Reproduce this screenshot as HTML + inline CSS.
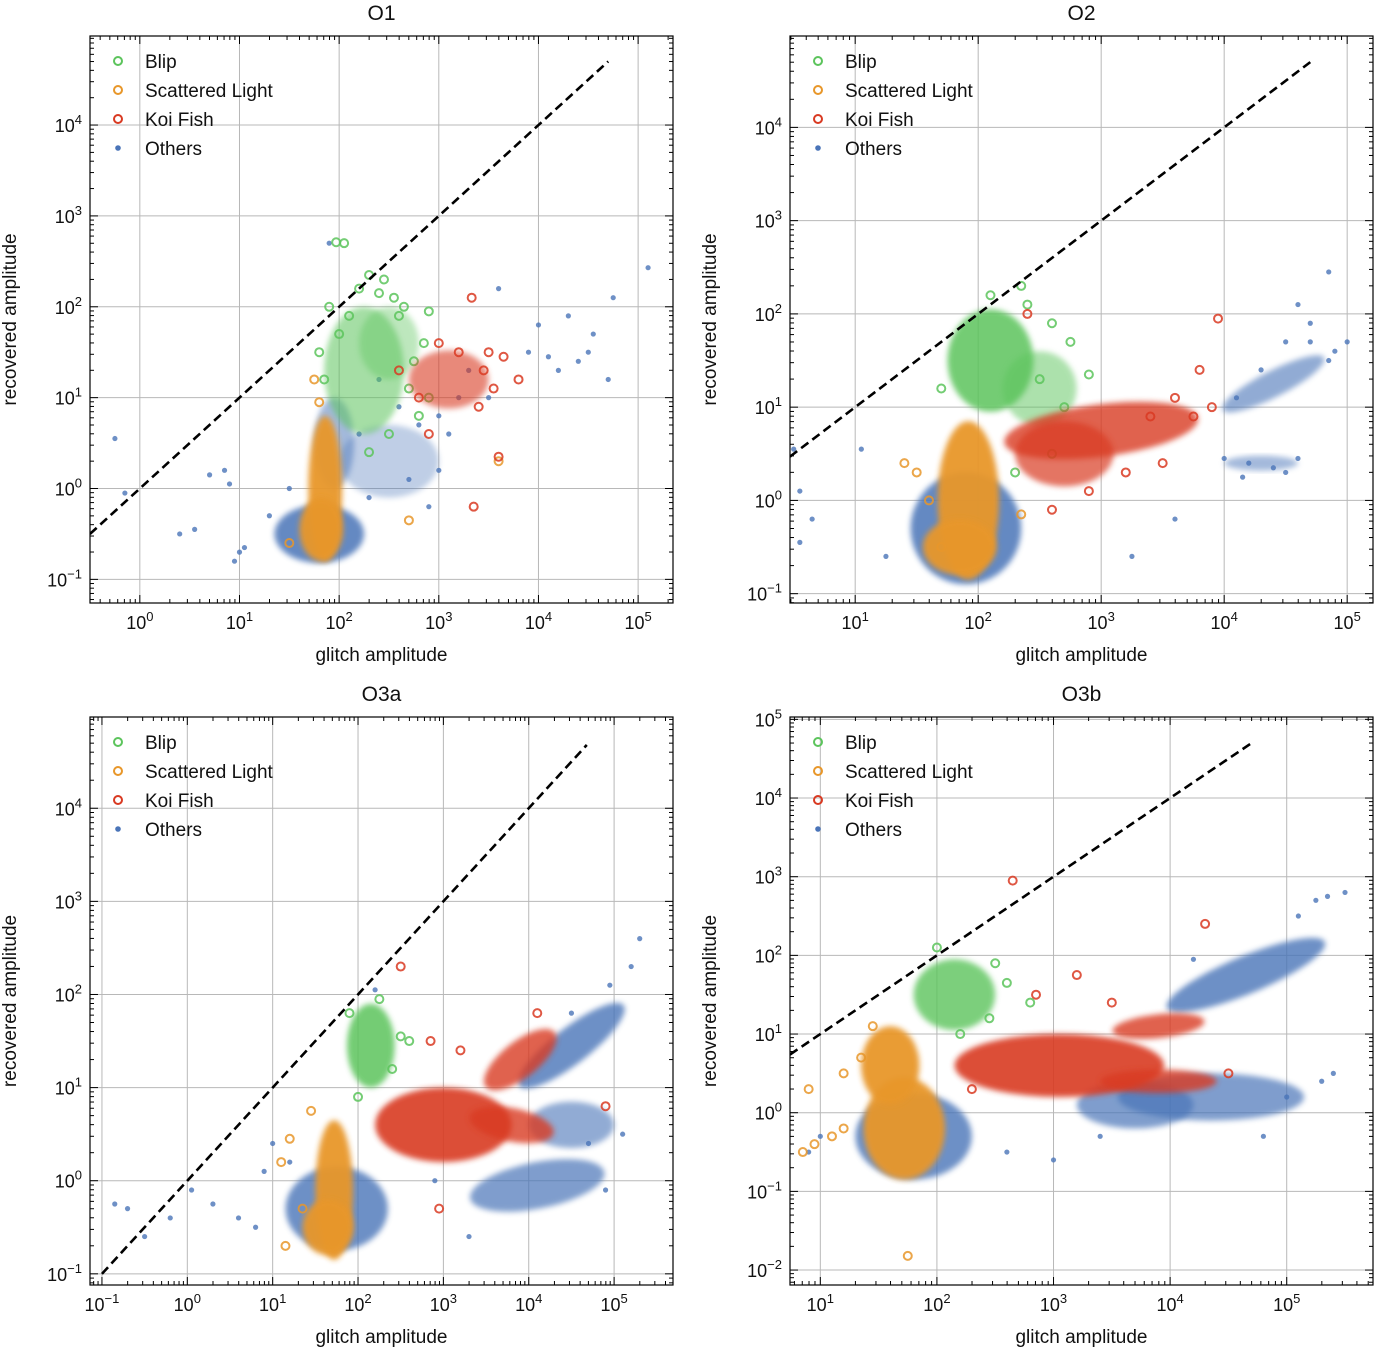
<!DOCTYPE html>
<html><head><meta charset="utf-8"><style>
html,body{margin:0;padding:0;background:#fff;}
svg{display:block;font-family:"Liberation Sans",sans-serif;}
</style></head><body>
<svg id="fig" width="1376" height="1350" viewBox="0 0 1376 1350" xmlns="http://www.w3.org/2000/svg">
<defs><filter id="soft" x="-20%" y="-20%" width="140%" height="140%"><feGaussianBlur stdDeviation="3"/></filter></defs>
</svg>
<script>
// ---- data (log10 coordinates). Blobs: [cx, cy, rx, ry, rotDeg, density] for dense regions; pts: [x, y]
const o1_otherBlobs=[[1.8,-0.5,0.45,0.32,0,0.85],[2.5,0.3,0.5,0.4,0,0.35],[1.95,0.5,0.2,0.5,0,0.5]];
const o1_otherPts=[[-0.25,0.55],[-0.15,-0.05],[0.4,-0.5],[0.55,-0.45],[0.7,0.15],[0.85,0.2],[0.9,0.05],[0.95,-0.8],[1.05,-0.65],[1.9,2.7],[3.9,1.5],[4.2,1.3],[4.5,1.5],[4.7,1.2],[5.1,2.43],[4.75,2.1],[4.0,1.8],[3.3,1.3],[3.5,1.0],[3.0,0.2],[1.0,-0.7],[1.3,-0.3],[1.5,0.0],[2.6,0.9],[2.8,0.7],[3.1,0.6],[2.4,1.2],[2.9,-0.2],[3.6,2.2],[4.3,1.9],[4.55,1.7],[4.4,1.4],[4.1,1.45],[2.2,0.6],[2.7,0.1],[3.0,0.8],[2.3,-0.1],[3.2,1.0]];
const o1_blipBlobs=[[2.25,1.3,0.4,0.7,0,0.55],[2.5,1.6,0.3,0.4,0,0.4]];
const o1_blipPts=[[2.05,2.7],[1.97,2.71],[2.45,2.3],[2.4,2.15],[2.3,2.35],[2.9,1.95],[2.75,1.4],[2.8,0.8],[1.8,1.5],[1.9,2.0],[2.6,1.9],[2.2,2.2],[2.65,2.0],[2.0,1.7],[2.85,1.6],[2.5,0.6],[2.3,0.4],[2.7,1.1],[1.85,1.2],[2.1,1.9],[2.55,2.1],[2.9,1.0]];
const o1_scatBlobs=[[1.86,0.0,0.17,0.8,0,0.95],[1.82,-0.45,0.22,0.35,0,0.95]];
const o1_scatPts=[[1.75,1.2],[1.8,0.95],[3.6,0.3],[2.7,-0.35],[1.5,-0.6]];
const o1_koiBlobs=[[3.1,1.2,0.4,0.32,0,0.6]];
const o1_koiPts=[[3.33,2.1],[3.6,0.35],[3.35,-0.2],[3.8,1.2],[3.65,1.45],[2.9,0.6],[3.0,1.6],[2.6,1.3],[3.5,1.5],[3.4,0.9],[3.45,1.3],[2.8,1.0],[3.2,1.5],[3.55,1.1]];

const o2_otherBlobs=[[1.9,-0.3,0.45,0.6,0,0.85],[4.4,1.25,0.5,0.13,35,0.6],[4.3,0.4,0.3,0.08,0,0.5]];
const o2_otherPts=[[0.5,0.55],[0.55,0.1],[0.65,-0.2],[0.55,-0.45],[1.05,0.55],[1.25,-0.6],[4.7,1.9],[4.6,2.1],[4.85,2.45],[4.5,1.7],[4.3,1.4],[4.1,1.1],[4.2,0.4],[4.4,0.35],[4.6,0.45],[4.5,0.3],[4.0,0.45],[4.15,0.25],[3.6,-0.2],[3.25,-0.6],[5.0,1.7],[4.85,1.5],[4.9,1.6],[4.7,1.7]];
const o2_blipBlobs=[[2.1,1.5,0.35,0.55,0,0.85],[2.5,1.2,0.3,0.4,0,0.5]];
const o2_blipPts=[[2.35,2.3],[2.4,2.1],[2.6,1.9],[2.75,1.7],[2.9,1.35],[2.5,1.3],[1.7,1.2],[2.1,2.2],[2.7,1.0],[2.6,0.5],[2.3,0.3]];
const o2_scatBlobs=[[1.92,0.0,0.25,0.85,0,0.95],[1.85,-0.5,0.3,0.3,0,0.95]];
const o2_scatPts=[[1.4,0.4],[1.5,0.3],[1.6,0.0],[2.35,-0.15],[1.7,-0.5]];
const o2_koiBlobs=[[3.0,0.75,0.8,0.28,10,0.8],[2.7,0.5,0.4,0.35,0,0.7]];
const o2_koiPts=[[3.95,1.95],[3.6,1.1],[3.8,1.4],[3.4,0.9],[2.6,-0.1],[2.4,2.0],[3.9,1.0],[3.5,0.4],[3.75,0.9],[3.2,0.3],[2.9,0.1]];

const o3a_otherBlobs=[[1.75,-0.3,0.6,0.45,0,0.8],[4.5,1.45,0.75,0.2,35,0.8],[4.1,-0.05,0.8,0.25,10,0.7],[4.5,0.6,0.5,0.25,0,0.6]];
const o3a_otherPts=[[-0.85,-0.25],[-0.7,-0.3],[-0.5,-0.6],[-0.2,-0.4],[0.05,-0.1],[0.3,-0.25],[0.6,-0.4],[0.9,0.1],[1.0,0.4],[1.2,0.2],[2.2,2.05],[2.9,0.0],[3.3,-0.6],[5.3,2.6],[5.2,2.3],[4.95,2.1],[4.5,1.8],[5.1,0.5],[4.9,-0.1],[4.7,0.4],[0.8,-0.5]];
const o3a_blipBlobs=[[2.15,1.45,0.28,0.45,0,0.85]];
const o3a_blipPts=[[2.5,1.55],[2.6,1.5],[1.9,1.8],[2.25,1.95],[2.4,1.2],[2.0,0.9]];
const o3a_scatBlobs=[[1.72,-0.1,0.22,0.75,0,0.95],[1.65,-0.5,0.3,0.3,0,0.95]];
const o3a_scatPts=[[1.2,0.45],[1.1,0.2],[1.45,0.75],[1.35,-0.3],[1.15,-0.7]];
const o3a_koiBlobs=[[3.0,0.6,0.8,0.4,0,0.9],[3.8,0.6,0.5,0.18,-10,0.8],[3.9,1.3,0.5,0.2,35,0.8]];
const o3a_koiPts=[[2.5,2.3],[4.1,1.8],[4.9,0.8],[3.2,1.4],[2.85,1.5],[2.95,-0.3]];

const o3b_otherBlobs=[[1.8,-0.3,0.5,0.55,0,0.8],[4.65,1.75,0.8,0.22,33,0.8],[4.35,0.2,0.8,0.3,0,0.7],[3.7,0.1,0.5,0.3,0,0.7]];
const o3b_otherPts=[[0.9,-0.5],[1.0,-0.3],[4.2,1.95],[5.1,2.5],[5.25,2.7],[5.5,2.8],[5.35,2.75],[5.3,0.4],[5.4,0.5],[5.0,0.2],[4.8,-0.3],[3.0,-0.6],[3.4,-0.3],[2.6,-0.5]];
const o3b_blipBlobs=[[2.15,1.5,0.35,0.45,0,0.8]];
const o3b_blipPts=[[2.5,1.9],[2.6,1.65],[2.8,1.4],[2.0,2.1],[2.45,1.2],[2.2,1.0]];
const o3b_scatBlobs=[[1.72,-0.2,0.35,0.65,0,0.95],[1.6,0.6,0.25,0.5,0,0.95]];
const o3b_scatPts=[[0.9,0.3],[0.85,-0.5],[0.95,-0.4],[1.1,-0.3],[1.2,0.5],[1.45,1.1],[1.35,0.7],[1.75,-1.82],[1.2,-0.2]];
const o3b_koiBlobs=[[3.05,0.6,0.9,0.4,0,0.9],[3.9,1.1,0.4,0.15,10,0.8],[3.9,0.4,0.5,0.15,0,0.8]];
const o3b_koiPts=[[2.65,2.95],[4.3,2.4],[3.2,1.75],[3.5,1.4],[2.85,1.5],[4.5,0.5],[2.3,0.3]];

const titles=["O1","O2","O3a","O3b"];
const xTickExp=[[0,1,2,3,4,5],[1,2,3,4,5],[-1,0,1,2,3,4,5],[1,2,3,4,5]];
const yTickExp=[[-1,0,1,2,3,4],[-1,0,1,2,3,4],[-1,0,1,2,3,4],[-2,-1,0,1,2,3,4,5]];
const legendLabels=["Blip","Scattered Light","Koi Fish","Others"];
const diagRange=[[-0.5,4.7],[0.47,4.7],[-1.0,4.68],[0.74,4.69]];

// ---- layout (not data)
const P=[
 {L:90,R:673,T:36,B:603,x0:-0.5,x1:5.35,y0:-1.26,y1:4.98},
 {L:790,R:1373,T:36,B:603,x0:0.47,x1:5.21,y0:-1.1,y1:4.98},
 {L:90,R:673,T:717,B:1285,x0:-1.14,x1:5.69,y0:-1.12,y1:4.98},
 {L:790,R:1373,T:717,B:1285,x0:0.74,x1:5.74,y0:-2.19,y1:5.03}
];
const series=[
 [o1_otherBlobs,o1_otherPts,o1_blipBlobs,o1_blipPts,o1_scatBlobs,o1_scatPts,o1_koiBlobs,o1_koiPts],
 [o2_otherBlobs,o2_otherPts,o2_blipBlobs,o2_blipPts,o2_scatBlobs,o2_scatPts,o2_koiBlobs,o2_koiPts],
 [o3a_otherBlobs,o3a_otherPts,o3a_blipBlobs,o3a_blipPts,o3a_scatBlobs,o3a_scatPts,o3a_koiBlobs,o3a_koiPts],
 [o3b_otherBlobs,o3b_otherPts,o3b_blipBlobs,o3b_blipPts,o3b_scatBlobs,o3b_scatPts,o3b_koiBlobs,o3b_koiPts]
];
const COL={blip:"#5cc45c",scat:"#e8972a",koi:"#d93a22",other:"#4a74b8"};
const NS="http://www.w3.org/2000/svg";
const svg=document.getElementById("fig");
function el(tag,parent,attrs){const e=document.createElementNS(NS,tag);for(const k in attrs)e.setAttribute(k,attrs[k]);parent.appendChild(e);return e;}

P.forEach((p,i)=>{
 const sx=v=>p.L+(v-p.x0)/(p.x1-p.x0)*(p.R-p.L);
 const sy=v=>p.B-(v-p.y0)/(p.y1-p.y0)*(p.B-p.T);
 const g=el("g",svg,{});
 
 
 const cid="clip"+i;
 const cp=el("clipPath",g,{id:cid});el("rect",cp,{x:p.L,y:p.T,width:p.R-p.L,height:p.B-p.T});
 xTickExp[i].forEach(e=>{const l=el("line",g,{x1:sx(e),x2:sx(e),y1:p.T,y2:p.B,stroke:"#b8b8b8","stroke-width":1});
  });
 yTickExp[i].forEach(e=>{const l=el("line",g,{x1:p.L,x2:p.R,y1:sy(e),y2:sy(e),stroke:"#b8b8b8","stroke-width":1});
  });
 const plot=el("g",g,{"clip-path":"url(#"+cid+")"});
 
 const s=series[i];
 const groups=[["others",COL.other,s[0],s[1],false],["blip",COL.blip,s[2],s[3],true],["scattered-light",COL.scat,s[4],s[5],true],["koi-fish",COL.koi,s[6],s[7],true]];
 groups.forEach(([nm,c,blobs,pts,open])=>{
  const sg=el("g",plot,{});
  
  blobs.forEach(b=>{
   const r=b[4]*Math.PI/180;let d="";
   for(let k=0;k<40;k++){const t=k/40*2*Math.PI;
    const lx=b[0]+b[2]*Math.cos(t)*Math.cos(r)-b[3]*Math.sin(t)*Math.sin(r);
    const ly=b[1]+b[2]*Math.cos(t)*Math.sin(r)+b[3]*Math.sin(t)*Math.cos(r);
    d+=(k?"L":"M")+sx(lx).toFixed(1)+","+sy(ly).toFixed(1);}
   const pe=el("path",sg,{d:d+"Z",fill:c,opacity:b[5],filter:"url(#soft)"});
   
  });
  pts.forEach(q=>{
   const ce=open?el("circle",sg,{cx:sx(q[0]),cy:sy(q[1]),r:4,fill:"none",stroke:c,"stroke-width":2,opacity:0.85})
                :el("circle",sg,{cx:sx(q[0]),cy:sy(q[1]),r:2.6,fill:c,opacity:0.8});
   
  });
 });
 const dr=diagRange[i];
 const dl=el("line",plot,{x1:sx(dr[0]),y1:sy(dr[0]),x2:sx(dr[1]),y2:sy(dr[1]),stroke:"#000","stroke-width":2.6,"stroke-dasharray":"9,5"});
 
 const tk=el("g",g,{stroke:"#000","stroke-width":1});
 
 for(let e=Math.floor(p.x0);e<=Math.ceil(p.x1);e++)for(let m=1;m<10;m++){const v=e+Math.log10(m);if(v<p.x0||v>p.x1)continue;const len=m==1?8:4;
  el("line",tk,{x1:sx(v),x2:sx(v),y1:p.B,y2:p.B-len});el("line",tk,{x1:sx(v),x2:sx(v),y1:p.T,y2:p.T+len});}
 for(let e=Math.floor(p.y0);e<=Math.ceil(p.y1);e++)for(let m=1;m<10;m++){const v=e+Math.log10(m);if(v<p.y0||v>p.y1)continue;const len=m==1?8:4;
  el("line",tk,{y1:sy(v),y2:sy(v),x1:p.L,x2:p.L+len});el("line",tk,{y1:sy(v),y2:sy(v),x1:p.R,x2:p.R-len});}
 const fr=el("rect",g,{x:p.L,y:p.T,width:p.R-p.L,height:p.B-p.T,fill:"none",stroke:"#000","stroke-width":1.2});
 
 xTickExp[i].forEach(e=>{const t=el("text",g,{x:sx(e),y:p.B+26,"text-anchor":"middle","font-size":18,fill:"#111"});
  
  t.appendChild(document.createTextNode("10"));const sp=el("tspan",t,{dy:-8,"font-size":13});sp.textContent=String(e).replace("-","−");});
 yTickExp[i].forEach(e=>{if(sy(e)<p.T-3)return;const t=el("text",g,{x:p.L-8,y:sy(e)+7,"text-anchor":"end","font-size":18,fill:"#111"});
  
  t.appendChild(document.createTextNode("10"));const sp=el("tspan",t,{dy:-8,"font-size":13});sp.textContent=String(e).replace("-","−");});
 const tt=el("text",g,{x:(p.L+p.R)/2,y:p.T-16,"text-anchor":"middle","font-size":21,fill:"#111"});tt.textContent=titles[i];
 
 const xl=el("text",g,{x:(p.L+p.R)/2,y:p.B+58,"text-anchor":"middle","font-size":19,fill:"#111"});xl.textContent="glitch amplitude";
 
 const yx=p.L-74,yy=(p.T+p.B)/2;
 const yl=el("text",g,{x:yx,y:yy,"text-anchor":"middle","font-size":19,fill:"#111",transform:"rotate(-90 "+yx+" "+yy+")"});yl.textContent="recovered amplitude";
 
 const lg=el("g",g,{});
 const lc=[COL.blip,COL.scat,COL.koi,COL.other];
 legendLabels.forEach((lab,k)=>{const y=p.T+25+k*29;
  const le=el("g",lg,{});
  if(k<3)el("circle",le,{cx:p.L+28,cy:y,r:4,fill:"none",stroke:lc[k],"stroke-width":2});
  else el("circle",le,{cx:p.L+28,cy:y,r:2.8,fill:lc[k]});
  const t=el("text",le,{x:p.L+55,y:y+7,"font-size":19,fill:"#111"});t.textContent=lab;});
});
</script>
</body></html>
